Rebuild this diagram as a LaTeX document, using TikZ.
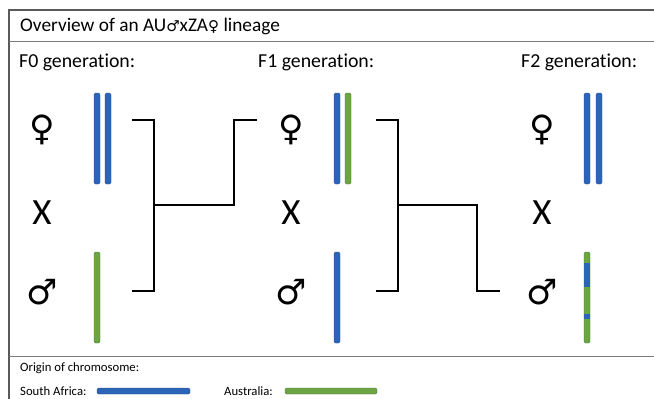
\documentclass[tikz,border=0pt]{standalone}
\usepackage{fontspec}
\setmainfont{Carlito}[Ligatures=NoCommon]
\newfontfamily\symfont{DejaVu Sans}
\definecolor{cblue}{HTML}{2C64B8}
\definecolor{cblueedge}{HTML}{2F528F}
\definecolor{cgreen}{HTML}{6CA544}
\definecolor{cgreenedge}{HTML}{507E32}
\definecolor{framegray}{HTML}{5A5A5A}
\tikzset{
  frameline/.style={draw=framegray, line width=1.1pt},
  sepline/.style={draw=framegray!80, line width=0.9pt},
  bluebar/.style={fill=cblue, draw=cblueedge, line width=0.4pt, rounded corners=1.5pt},
  greenbar/.style={fill=cgreen, draw=cgreenedge, line width=0.4pt, rounded corners=1.5pt},
  bracket/.style={draw=black, line width=1.1pt},
  titletext/.style={anchor=west, inner sep=0pt, font=\fontsize{19.3}{22}\selectfont},
  gentext/.style={anchor=west, inner sep=0pt, font=\fontsize{19.8}{23}\selectfont},
  legtext/.style={anchor=west, inner sep=0pt, font=\fontsize{12.7}{15}\selectfont},
  sexsym/.style={inner sep=0pt, font=\symfont\fontsize{35}{38}\selectfont},
  crosssym/.style={inner sep=0pt, font=\fontsize{37}{40}\selectfont},
}
\begin{document}
\begin{tikzpicture}[x=1pt,y=-1pt]
\useasboundingbox[fill=white] (0,0) rectangle (654,399);
% frame
\draw[frameline] (9,399) -- (9,10) -- (654,10);
\draw[sepline] (9,41) -- (654,41);
\draw[sepline] (9,356) -- (654,356);
% title
\node[titletext] (title) at (20,26) {Overview of an AU{\symfont\fontsize{15}{17}\selectfont ♂}xZA{\symfont\fontsize{15}{17}\selectfont ♀} lineage};
% generation labels
\node[gentext] (g0) at (19,62) {F0 generation:};
\node[gentext] (g1) at (258,62) {F1 generation:};
\node[gentext] (g2) at (521,62) {F2 generation:};
% sex symbols
\foreach \gx/\nm in {42/a,291/b,542/c}{
  \node[sexsym] (fem\nm) at (\gx,130) {♀};
  \node[crosssym] (x\nm) at (\gx,213) {X};
  \node[sexsym] (mal\nm) at (\gx,292) {♂};
}
% F0 chromosomes
\draw[bluebar] (94,93) rectangle (100,184);
\draw[bluebar] (105,93) rectangle (111,184);
\draw[greenbar] (94,252) rectangle (100,343);
% F1 chromosomes
\draw[bluebar] (334,93) rectangle (340,184);
\draw[greenbar] (345,93) rectangle (351,184);
\draw[bluebar] (334,252) rectangle (340,343);
% F2 chromosomes
\draw[bluebar] (584,93) rectangle (590,184);
\draw[bluebar] (596,93) rectangle (602,184);
\draw[greenbar] (584,252) rectangle (590,343);
\fill[cblue] (584.2,263) rectangle (589.8,287);
\fill[cblue] (584.2,314) rectangle (589.8,319);
% bracket coordinates
\coordinate (a1) at (132,120);
\coordinate (a2) at (154,120);
\coordinate (a3) at (154,291);
\coordinate (a4) at (132,291);
\coordinate (am) at (154,205);
\coordinate (ac) at (234,205);
\coordinate (at) at (234,120);
\coordinate (ae) at (257,120);
\coordinate (b1) at (376,120);
\coordinate (b2) at (398,120);
\coordinate (b3) at (398,291);
\coordinate (b4) at (376,291);
\coordinate (bm) at (398,205);
\coordinate (bc) at (477,205);
\coordinate (bt) at (477,291);
\coordinate (be) at (500,291);
\draw[bracket] (a1) -- (a2) -- (a3) -- (a4);
\draw[bracket] (am) -- (ac) -- (at) -- (ae);
\draw[bracket] (b1) -- (b2) -- (b3) -- (b4);
\draw[bracket] (bm) -- (bc) -- (bt) -- (be);
% legend
\node[legtext] (orig) at (20,368) {Origin of chromosome:};
\node[legtext] (sa) at (20,391) {South Africa:};
\node[legtext] (au) at (224,391) {Australia:};
\draw[bluebar] (97,388) rectangle (190,394);
\draw[greenbar] (285,388) rectangle (377,394);
\end{tikzpicture}
\end{document}
